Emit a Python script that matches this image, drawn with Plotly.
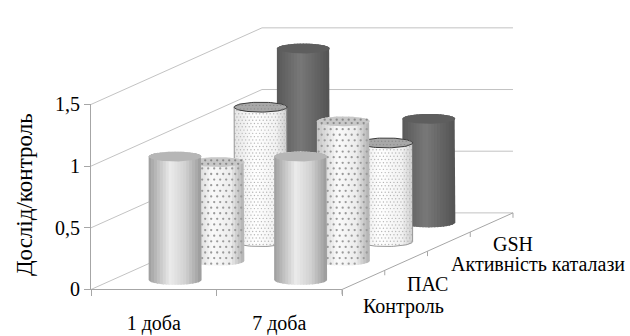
import numpy as np
import plotly.graph_objects as go

# ---- data -------------------------------------------------------------
categories = ["1 доба", "7 доба"]
series = ["Контроль", "ПАС", "Активність каталази", "GSH"]
control = [1.0, 1.0]
pas = [0.80, 1.13]
catalase = [1.09, 0.80]
gsh = [1.41, 0.84]
y_ticks = [0, 0.5, 1, 1.5]
y_ticktext = ["0", "0,5", "1", "1,5"]
values = [control, pas, catalase, gsh]

# ---- oblique 3-D geometry (in axis units) -------------------------------
DX = 1.3625      # horizontal shift of the back plane (category units)
DY = 0.621       # vertical shift of the back plane (value units)
RX = 0.211       # cylinder radius along x
RY = 0.04        # half-height of the cylinder caps
N_ROWS = len(series)
N_SLICES = 18    # vertical strips used to shade each cylinder

FONT = "Liberation Serif"
GRID = "#c3c3c3"
AXIS = "#a6a6a6"
PX_X, PX_Y = 125.5, 132.0   # pixels per axis unit

styles = {
    "Контроль": dict(
        body=[(0, "#9c9c9c"), (0.42, "#ebebeb"), (0.7, "#d2d2d2"), (1, "#9a9a9a")],
        cap="#b6b6b6", dots=None, outline=None),
    "ПАС": dict(
        body=[(0, "#c4c4c4"), (0.4, "#fafafa"), (0.75, "#ececec"), (1, "#b0b0b0")],
        cap="#c8c8c8", dots=dict(color="#9a9a9a", step=6.0, size=2.3), outline=None),
    "Активність каталази": dict(
        body=[(0, "#e4e4e4"), (0.4, "#ffffff"), (0.8, "#f2f2f2"), (1, "#cfcfcf")],
        cap="#a8a8a8", dots=dict(color="#b4b4b4", step=3.5, size=1.4),
        outline="#3a3a3a"),
    "GSH": dict(
        body=[(0, "#585858"), (0.45, "#787878"), (1, "#545454")],
        cap="#5e5e5e", dots=None, outline=None),
}


def shade(stops, t):
    """Linear colour interpolation along a list of (position, hex) stops."""
    for (p0, c0), (p1, c1) in zip(stops[:-1], stops[1:]):
        if t <= p1:
            w = (t - p0) / (p1 - p0) if p1 > p0 else 0
            a = [int(c0[k:k + 2], 16) for k in (1, 3, 5)]
            b = [int(c1[k:k + 2], 16) for k in (1, 3, 5)]
            return "rgb(%d,%d,%d)" % tuple(round(a[k] + (b[k] - a[k]) * w) for k in range(3))
    return stops[-1][1]


fig = go.Figure()

# ---- walls: gridlines on the side and back walls, floor edges ----------
wx, wy = [], []
for v in y_ticks:
    wx += [0, DX, len(categories) + DX, None]
    wy += [v, v + DY, v + DY, None]
fig.add_trace(go.Scatter(x=wx, y=wy, mode="lines", line=dict(color=GRID, width=1),
                         hoverinfo="skip", showlegend=False))

# depth axis with its tick marks
dx_line, dy_line = [len(categories), len(categories) + DX, None], [0, DY, None]
for k in range(N_ROWS + 1):
    f = k / N_ROWS
    dx_line += [len(categories) + f * DX, len(categories) + f * DX, None]
    dy_line += [f * DY, f * DY - 0.04, None]
fig.add_trace(go.Scatter(x=dx_line, y=dy_line, mode="lines",
                         line=dict(color=AXIS, width=1),
                         hoverinfo="skip", showlegend=False))


def half_ellipse(cx, cy, t0, t1, n=40):
    t = np.linspace(t0, t1, n)
    return list(cx + RX * np.cos(t)), list(cy + RY * np.sin(t))


def rim(cx, x):
    u = np.clip((np.asarray(x) - cx) / RX, -1, 1)
    return RY * np.sqrt(1 - u * u)


def dot_grid(cx, base, top, dots):
    """Staggered dot texture inside the cylinder outline."""
    sx, sy = dots["step"] / PX_X, dots["step"] / PX_Y
    xs, ys = [], []
    row = 0
    y = base - RY * 0.6
    while y < top + RY * 0.8:
        off = (row % 2) * sx / 2
        x = cx - RX + sx * 0.3 + off
        while x < cx + RX - sx * 0.2:
            r = float(rim(cx, x))
            if base - r + 0.01 < y < top + r - 0.01:
                xs.append(x)
                ys.append(y)
            x += sx
        y += sy
        row += 1
    return xs, ys


def add_cylinder(cx, base, value, st):
    top = base + value
    edges = np.linspace(cx - RX, cx + RX, N_SLICES + 1)
    pad = 0.6 / PX_X
    for s in range(N_SLICES):
        xa = max(cx - RX, edges[s] - pad)
        xb = min(cx + RX, edges[s + 1] + pad)
        xs = np.linspace(xa, xb, 6)
        px = list(xs) + list(xs[::-1]) + [xs[0]]
        py = list(base - rim(cx, xs)) + list((top + rim(cx, xs))[::-1]) + [base - float(rim(cx, xs[0]))]
        t = (s + 0.5) / N_SLICES
        fig.add_trace(go.Scatter(
            x=px, y=py, mode="lines", fill="toself", line=dict(width=0),
            fillcolor=shade(st["body"], t), hoverinfo="skip", showlegend=False))
    if st["dots"]:
        dxs, dys = dot_grid(cx, base, top, st["dots"])
        fig.add_trace(go.Scatter(
            x=dxs, y=dys, mode="markers",
            marker=dict(size=st["dots"]["size"], color=st["dots"]["color"],
                        line=dict(width=0)),
            hoverinfo="skip", showlegend=False))
    if st["outline"]:
        ox, oy = half_ellipse(cx, base, np.pi, 2 * np.pi)
        fig.add_trace(go.Scatter(
            x=[cx - RX] + ox + [cx + RX], y=[top] + oy + [top], mode="lines",
            line=dict(width=0.8, color="#808080"), hoverinfo="skip", showlegend=False))
    kx, ky = half_ellipse(cx, top, 0, 2 * np.pi, 80)
    cap_line = dict(width=1, color=st["outline"]) if st["outline"] else dict(width=0)
    fig.add_trace(go.Scatter(
        x=kx, y=ky, mode="lines", fill="toself", line=cap_line,
        fillcolor=st["cap"], hoverinfo="skip", showlegend=False))
    if st["dots"]:
        cdx, cdy = [], []
        sx, sy = st["dots"]["step"] / PX_X, st["dots"]["step"] / PX_Y
        for yy in (top - RY * 0.35, top + RY * 0.35):
            xx = cx - RX + sx * 0.8 + (0 if yy < top else sx / 2)
            while xx < cx + RX - sx * 0.5:
                if abs(yy - top) < float(rim(cx, xx)) * 0.8:
                    cdx.append(xx)
                    cdy.append(yy)
                xx += sx
        fig.add_trace(go.Scatter(
            x=cdx, y=cdy, mode="markers",
            marker=dict(size=st["dots"]["size"], color="#8a8a8a", line=dict(width=0)),
            hoverinfo="skip", showlegend=False))


# draw rows from the back to the front so nearer cylinders overlap farther ones
for j in reversed(range(N_ROWS)):
    frac = (j + 0.5) / N_ROWS
    for i, cat in enumerate(categories):
        add_cylinder(i + 0.5 + frac * DX, frac * DY, values[j][i], styles[series[j]])

# anchor trace for the front value/category axes
fig.add_trace(go.Scatter(x=[0], y=[0], xaxis="x2", yaxis="y2", mode="markers",
                         marker=dict(opacity=0), hoverinfo="skip", showlegend=False))

# ---- depth-axis labels and value-axis title ----------------------------
W, H = 630, 336
depth_labels = [  # (text, left px, centre px)
    (series[0], 361, 316.5),
    (series[1], 404.5, 292.5),
    (series[2], 448.5, 271),
    (series[3], 491, 249),
]
annotations = [
    dict(text=t, x=xp / W, y=1 - yp / H, xref="paper", yref="paper",
         xanchor="left", yanchor="middle", showarrow=False,
         font=dict(family=FONT, size=20, color="#000"))
    for t, xp, yp in depth_labels
]
annotations.append(dict(text="Дослід/контроль", x=24 / W, y=1 - 197 / H,
                        xref="paper", yref="paper", textangle=-90,
                        xanchor="center", yanchor="middle", showarrow=False,
                        font=dict(family=FONT, size=23, color="#000")))

fig.update_layout(
    width=W, height=H,
    margin=dict(l=0, r=0, t=0, b=0),
    paper_bgcolor="white", plot_bgcolor="rgba(0,0,0,0)",
    showlegend=False,
    font=dict(family=FONT, color="#000"),
    xaxis=dict(domain=[0, 1], range=[-91 / PX_X, (W - 91) / PX_X], visible=False,
               fixedrange=True),
    yaxis=dict(domain=[0, 1], range=[-(H - 298) / PX_Y, 298 / PX_Y], visible=False,
               fixedrange=True),
    xaxis2=dict(domain=[91 / W, 342 / W], range=[0, 2], anchor="y2",
                showline=True, linecolor=AXIS, linewidth=1, showgrid=False,
                zeroline=False, tickmode="array", tickvals=[0.5, 1.5],
                ticktext=categories, ticks="", ticklabelstandoff=16,
                minor=dict(tickvals=[0, 1, 2], ticks="outside", ticklen=6,
                           tickcolor=AXIS, showgrid=False),
                tickfont=dict(family=FONT, size=20, color="#000"), fixedrange=True),
    yaxis2=dict(domain=[(H - 298) / H, (H - 100) / H], range=[0, 1.5], anchor="x2",
                showline=True, linecolor=AXIS, linewidth=1, showgrid=False,
                zeroline=False, tickmode="array", tickvals=y_ticks,
                ticktext=y_ticktext, ticks="outside", ticklen=6, tickcolor=AXIS,
                tickfont=dict(family=FONT, size=20, color="#000"), fixedrange=True),
    annotations=annotations,
)

fig.write_html("out.html")
